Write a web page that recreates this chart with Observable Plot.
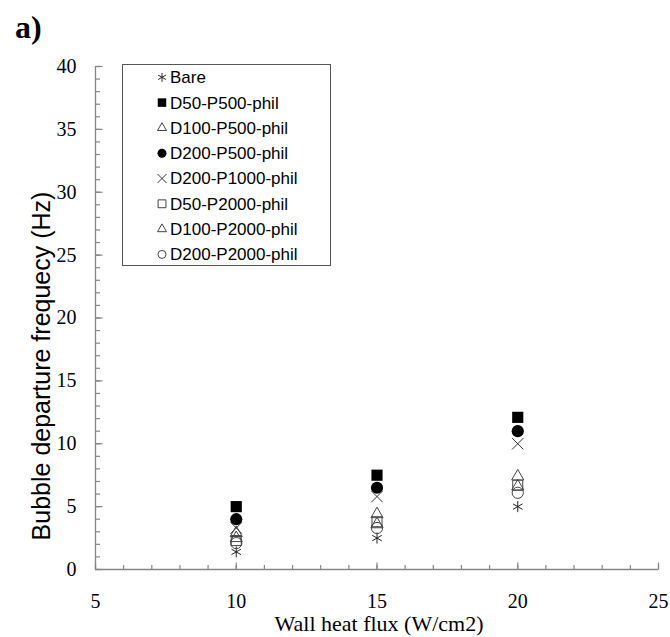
<!DOCTYPE html>
<html>
<head>
<meta charset="utf-8">
<script src="https://cdn.jsdelivr.net/npm/d3@7"></script>
<script src="https://cdn.jsdelivr.net/npm/@observablehq/plot@0.6"></script>
<style>
  html, body { margin: 0; padding: 0; background: #fff; }
  #chart { position: relative; width: 670px; height: 637px; }
</style>
</head>
<body>
<div id="chart"></div>
<script>
// ---------- data ----------
const heatFlux = [10, 15, 20];
const seriesNames = [
  "Bare", "D50-P500-phil", "D100-P500-phil", "D200-P500-phil",
  "D200-P1000-phil", "D50-P2000-phil", "D100-P2000-phil", "D200-P2000-phil"
];
const bare        = [1.4, 2.5, 5.0];
const d50p500     = [5.0, 7.5, 12.1];
const d100p500    = [2.9, 4.4, 7.4];
const d200p500    = [4.0, 6.5, 11.0];
const d200p1000   = [3.3, 5.8, 10.0];
const d50p2000    = [2.3, 3.8, 6.7];
const d100p2000   = [2.5, 3.6, 6.6];
const d200p2000   = [2.1, 3.3, 6.1];
const seriesValues = [bare, d50p500, d100p500, d200p500, d200p1000, d50p2000, d100p2000, d200p2000];
const xTicks = [5, 10, 15, 20, 25];
const yTicks = [0, 5, 10, 15, 20, 25, 30, 35, 40];
const xMinorTicks = d3.range(5, 26, 1);
const yMinorTicks = d3.range(0, 41, 1);
const xTitle = "Wall heat flux (W/cm2)";
const yTitle = "Bubble departure frequecy (Hz)";
const panelLabel = "a)";

// ---------- styles (separate from data) ----------
const markerStyle = {
  "Bare":            {symbol: "asterisk",  d3s: d3.symbolAsterisk,  fill: "none",  stroke: "#222", r: 5.2, lr: 4.2},
  "D50-P500-phil":   {symbol: "square",    d3s: d3.symbolSquare,    fill: "#000",  stroke: "none", r: 6.3, lr: 4.8},
  "D100-P500-phil":  {symbol: "triangle2", d3s: d3.symbolTriangle2, fill: "none",  stroke: "#444", r: 5.8, lr: 4.3},
  "D200-P500-phil":  {symbol: "circle",    d3s: d3.symbolCircle,    fill: "#000",  stroke: "none", r: 6.1, lr: 4.5},
  "D200-P1000-phil": {symbol: "times",     d3s: d3.symbolTimes,     fill: "none",  stroke: "#333", r: 5.2, lr: 4.2},
  "D50-P2000-phil":  {symbol: "square2",   d3s: d3.symbolSquare2,   fill: "none",  stroke: "#444", r: 6.4, lr: 5.0},
  "D100-P2000-phil": {symbol: "triangle2", d3s: d3.symbolTriangle2, fill: "none",  stroke: "#444", r: 5.8, lr: 4.3},
  "D200-P2000-phil": {symbol: "circle",    d3s: d3.symbolCircle,    fill: "none",  stroke: "#444", r: 5.6, lr: 4.0}
};

const rows = [];
seriesNames.forEach((name, i) => {
  heatFlux.forEach((x, j) => rows.push({series: name, x, y: seriesValues[i][j]}));
});

const axisColor = "#868686";
const serif = "'Liberation Serif', 'Times New Roman', serif";
const sans = "'Liberation Sans', Arial, sans-serif";

// inward tick shapes as custom symbols (length = r)
const tickRight = {draw(ctx, size) { const l = Math.sqrt(size / Math.PI); ctx.moveTo(0, 0); ctx.lineTo(l, 0); }};
const tickUp    = {draw(ctx, size) { const l = Math.sqrt(size / Math.PI); ctx.moveTo(0, 0); ctx.lineTo(0, -l); }};

const dotMarks = seriesNames.map(name => {
  const s = markerStyle[name];
  return Plot.dot(rows.filter(d => d.series === name), {
    x: "x", y: "y", symbol: () => s.symbol, r: s.r,
    fill: s.fill, stroke: s.stroke, strokeWidth: 1
  });
});

const plot = Plot.plot({
  width: 670,
  height: 637,
  marginLeft: 95,
  marginRight: 12,
  marginTop: 66,
  marginBottom: 68,
  x: {domain: [5, 25]},
  y: {domain: [0, 40]},
  style: {background: "#fff", color: "#000", overflow: "visible"},
  marks: [
    Plot.axisY({ticks: yTicks, tickSize: 0, tickPadding: 19, fontSize: 20, fontFamily: serif, label: null}),
    Plot.axisX({ticks: xTicks, tickSize: 0, tickPadding: 24, fontSize: 20, fontFamily: serif, label: null}),
    Plot.dot(yMinorTicks, {x: 5, y: d => d, symbol: tickRight, r: 4.5, stroke: axisColor, strokeWidth: 1.2}),
    Plot.dot(yTicks, {x: 5, y: d => d, symbol: tickRight, r: 7, stroke: axisColor, strokeWidth: 1.2}),
    Plot.dot(xMinorTicks, {x: d => d, y: 0, symbol: tickUp, r: 4.5, stroke: axisColor, strokeWidth: 1.2}),
    Plot.dot(xTicks, {x: d => d, y: 0, symbol: tickUp, r: 7, stroke: axisColor, strokeWidth: 1.2}),
    Plot.ruleX([5], {stroke: axisColor, strokeWidth: 1.3}),
    Plot.ruleY([0], {stroke: axisColor, strokeWidth: 1.3}),
    ...dotMarks
  ]
});

document.getElementById("chart").appendChild(plot);

// ---------- titles, panel label, legend ----------
const svg = d3.select(plot);

svg.append("text")
  .attr("x", 379).attr("y", 631)
  .attr("text-anchor", "middle")
  .style("font-family", serif).style("font-size", "22px").attr("fill", "#000")
  .text(xTitle);

svg.append("text")
  .attr("transform", "translate(50,366) rotate(-90)")
  .attr("text-anchor", "middle")
  .style("font-family", sans).style("font-size", "25px").attr("fill", "#000")
  .text(yTitle);

svg.append("text")
  .attr("x", 15).attr("y", 38)
  .attr("text-anchor", "start")
  .style("font-family", serif).style("font-size", "32px").style("font-weight", "bold").attr("fill", "#000")
  .text(panelLabel);

const lg = svg.append("g");
lg.append("rect")
  .attr("x", 122.5).attr("y", 64.5).attr("width", 208).attr("height", 201)
  .attr("fill", "#fff").attr("stroke", "#555").attr("stroke-width", 1);
seriesNames.forEach((name, i) => {
  const s = markerStyle[name];
  const cy = 77.3 + i * 25.3;
  lg.append("path")
    .attr("transform", `translate(162,${cy})`)
    .attr("d", d3.symbol(s.d3s, Math.PI * s.lr * s.lr)())
    .attr("fill", s.fill).attr("stroke", s.stroke).attr("stroke-width", 1);
  lg.append("text")
    .attr("x", 170).attr("y", cy).attr("dy", "0.35em")
    .attr("text-anchor", "start")
    .style("font-family", sans).style("font-size", "17px").attr("fill", "#000")
    .text(name);
});
</script>
</body>
</html>
